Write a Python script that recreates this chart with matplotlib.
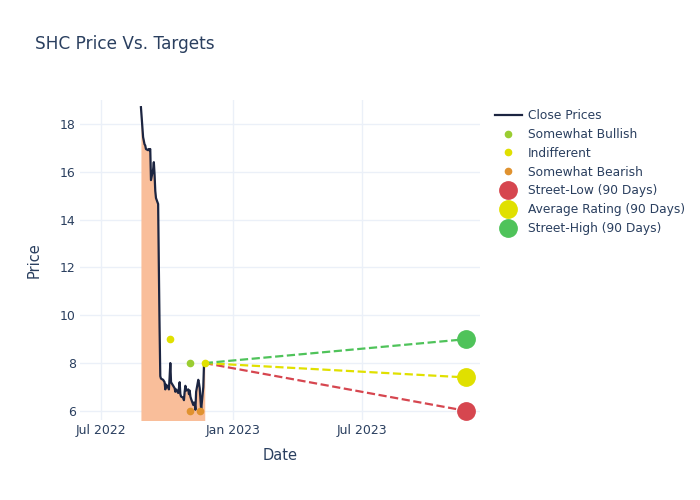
import matplotlib
matplotlib.use("Agg")
import matplotlib.pyplot as plt
import matplotlib.dates as mdates
import pandas as pd

title = "SHC Price Vs. Targets"
price_start = "2022-08-26"
price_end = "2022-11-23"
close_prices = [18.7, 17.45, 17.3, 17.15, 17.1, 16.95, 16.9, 16.95, 16.9, 16.95,
                15.65, 16.1, 16.4, 15.9, 15.2, 14.9, 14.65, 12.0, 9.5, 7.45,
                7.35, 7.3, 7.25, 7.2, 6.9, 7.1, 7.0, 6.9, 7.4, 8.0,
                7.2, 7.05, 7.0, 6.95, 6.8, 6.9, 6.75, 6.95, 7.2, 6.7,
                6.6, 6.55, 6.45, 6.8, 7.05, 6.85, 6.9, 6.7, 6.85, 6.6,
                6.5, 6.25, 6.35, 6.3, 6.05, 6.8, 7.3, 7.15, 6.95, 6.5,
                6.05, 7.0, 7.95, 8.02]

bullish_dates = ["2022-11-03"]
bullish_vals = [8.0]
indiff_dates = ["2022-10-05", "2022-11-23"]
indiff_vals = [9.0, 8.0]
bearish_dates = ["2022-11-03", "2022-11-16"]
bearish_vals = [6.0, 6.0]

target_start_date = "2022-11-23"
target_end_date = "2023-11-23"
target_start_val = 8.0
street_low = 6.0
avg_rating = 7.4
street_high = 9.0

dates = pd.bdate_range(price_start, price_end)
n = min(len(dates), len(close_prices))
dates = dates[:n]
close_prices = close_prices[:n]

text_c = "#2a3f5f"
fig = plt.figure(figsize=(7, 5), dpi=100)
ax = fig.add_axes([80/700, 1-420/500, 400/700, 320/500])

ax.fill_between(dates, close_prices, 0, color="#F9BE9A", lw=0, zorder=1)
ax.plot(dates, close_prices, color="#1c2541", lw=1.6, zorder=3, label="Close Prices")

ax.plot(pd.to_datetime(bullish_dates), bullish_vals, "o", color="#9ACD32", ms=4.5, zorder=4, label="Somewhat Bullish")
ax.plot(pd.to_datetime(indiff_dates), indiff_vals, "o", color="#E0E000", ms=4.5, zorder=4, label="Indifferent")
ax.plot(pd.to_datetime(bearish_dates), bearish_vals, "o", color="#E0922F", ms=4.5, zorder=4, label="Somewhat Bearish")

t0 = pd.Timestamp(target_start_date)
t1 = pd.Timestamp(target_end_date)
for val, col, lab in [(street_low, "#D6464F", "Street-Low (90 Days)"),
                      (avg_rating, "#E0E000", "Average Rating (90 Days)"),
                      (street_high, "#4FC35A", "Street-High (90 Days)")]:
    ax.plot([t0, t1], [target_start_val, val], "--", color=col, lw=1.6, zorder=2)
    ax.plot([t1], [val], "o", color=col, ms=12.5, zorder=5, label=lab)

ax.set_xlim(pd.Timestamp("2022-06-02"), pd.Timestamp("2023-12-12"))
ax.set_ylim(5.62, 19.0)
ax.set_yticks([6, 8, 10, 12, 14, 16, 18])
ax.set_xticks(pd.to_datetime(["2022-07-01", "2023-01-01", "2023-07-01"]))
ax.xaxis.set_major_formatter(mdates.DateFormatter("%b %Y"))
for s in ax.spines.values():
    s.set_visible(False)
ax.grid(True, color="#ebf0f8", lw=1)
ax.set_axisbelow(True)
ax.tick_params(axis="y", length=0, labelsize=9, labelcolor=text_c, pad=3)
ax.tick_params(axis="x", length=0, labelsize=9, labelcolor=text_c, pad=3)
ax.set_xlabel("Date", fontsize=10.5, color=text_c, labelpad=8)
ax.set_ylabel("Price", fontsize=10.5, color=text_c, labelpad=13)

fig.text(35/700, 1-44/500, title, fontsize=12.2, color=text_c, va="center", ha="left")

handles, labels = ax.get_legend_handles_labels()
leg = fig.legend(handles, labels, loc="upper left", bbox_to_anchor=(495/700, 1-109/500),
                 frameon=False, fontsize=8.8, labelcolor=text_c, handlelength=2.2,
                 handletextpad=0.5, labelspacing=0.48, borderaxespad=0, borderpad=0)
fig.savefig("out.png", dpi=100, facecolor="white")
